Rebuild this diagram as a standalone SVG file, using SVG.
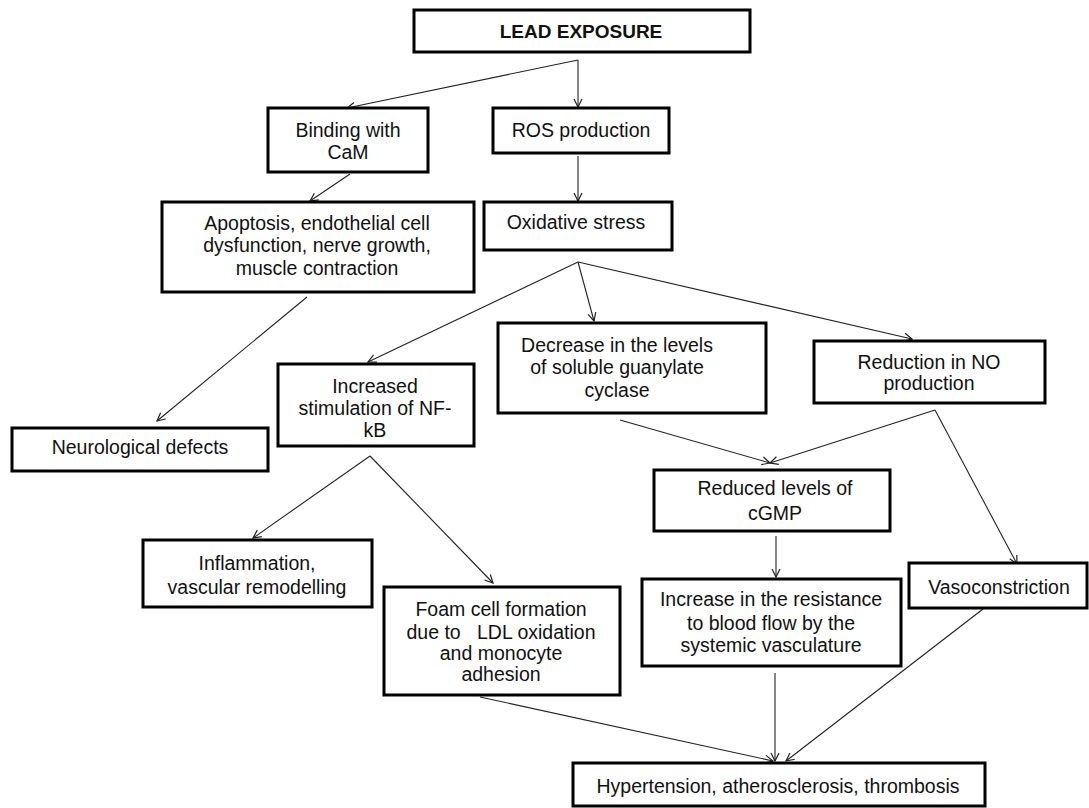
<svg xmlns="http://www.w3.org/2000/svg" width="1089" height="808" viewBox="0 0 1089 808">
<style>
.box{fill:#fff;stroke:#000;stroke-width:3}
.t{font-family:"Liberation Sans",Arial,sans-serif;font-size:19.5px;fill:#111;text-anchor:middle;white-space:pre}
.b{font-weight:bold;font-size:19px}
.c{fill:none;stroke:#222;stroke-width:1.1;marker-end:url(#ah)}
</style>
<defs>
<marker id="ah" viewBox="0 0 10 10" refX="9" refY="5" markerWidth="10" markerHeight="10" markerUnits="userSpaceOnUse" orient="auto">
<path d="M1,1 L9,5 L1,9" fill="none" stroke="#222" stroke-width="1.2"/>
</marker>
</defs>
<rect width="1089" height="808" fill="#fff"/>
<g id="connectors">
<line class="c" x1="578" y1="60" x2="347" y2="108"/>
<line class="c" x1="578" y1="60" x2="578" y2="107"/>
<line class="c" x1="350" y1="174" x2="310" y2="201"/>
<line class="c" x1="578" y1="156" x2="578" y2="201"/>
<line class="c" x1="307" y1="297" x2="157" y2="421"/>
<line class="c" x1="578" y1="262" x2="368" y2="362"/>
<line class="c" x1="578" y1="262" x2="594" y2="321"/>
<line class="c" x1="578" y1="262" x2="912" y2="339"/>
<line class="c" x1="620" y1="420" x2="770" y2="463"/>
<line class="c" x1="935" y1="410" x2="770" y2="463"/>
<line class="c" x1="935" y1="410" x2="1017" y2="564"/>
<line class="c" x1="776" y1="536" x2="776" y2="577"/>
<line class="c" x1="370" y1="456" x2="253" y2="538"/>
<line class="c" x1="370" y1="456" x2="493" y2="583"/>
<line class="c" x1="775" y1="673" x2="775" y2="761"/>
<line class="c" x1="983" y1="609" x2="786" y2="761"/>
<line class="c" x1="480" y1="697" x2="773" y2="761"/>
</g>
<g id="lead"><rect class="box" x="414" y="10" width="336" height="42"/><text class="t b" x="581" y="38">LEAD EXPOSURE</text></g>
<g id="binding"><rect class="box" x="268" y="108" width="160" height="64"/><text class="t" x="348" y="137">Binding with</text><text class="t" x="348" y="159">CaM</text></g>
<g id="ros"><rect class="box" x="493" y="108" width="176" height="45"/><text class="t" x="581" y="137">ROS production</text></g>
<g id="apoptosis"><rect class="box" x="162" y="202" width="312" height="90"/><text class="t" x="317" y="230">Apoptosis, endothelial cell</text><text class="t" x="317" y="252">dysfunction, nerve growth,</text><text class="t" x="317" y="275">muscle contraction</text></g>
<g id="oxidative"><rect class="box" x="484" y="202" width="188" height="48"/><text class="t" x="576" y="229">Oxidative stress</text></g>
<g id="neuro"><rect class="box" x="12" y="428" width="256" height="43"/><text class="t" x="140" y="454">Neurological defects</text></g>
<g id="nfkb"><rect class="box" x="278" y="364" width="196" height="82"/><text class="t" x="375" y="393">Increased</text><text class="t" x="375" y="415">stimulation of NF-</text><text class="t" x="375" y="437">kB</text></g>
<g id="decrease"><rect class="box" x="498" y="323" width="268" height="90"/><text class="t" x="617" y="352">Decrease in the levels</text><text class="t" x="617" y="374">of soluble guanylate</text><text class="t" x="617" y="397">cyclase</text></g>
<g id="reduction"><rect class="box" x="814" y="341" width="231" height="62"/><text class="t" x="929" y="369">Reduction in NO</text><text class="t" x="929" y="390">production</text></g>
<g id="cgmp"><rect class="box" x="654" y="470" width="236" height="61"/><text class="t" x="775" y="495">Reduced levels of</text><text class="t" x="775" y="520">cGMP</text></g>
<g id="inflammation"><rect class="box" x="143" y="540" width="229" height="67"/><text class="t" x="257" y="570">Inflammation,</text><text class="t" x="257" y="594">vascular remodelling</text></g>
<g id="foam"><rect class="box" x="384" y="587" width="236" height="108"/><text class="t" x="501" y="616">Foam cell formation</text><text class="t" x="501" y="639">due to   LDL oxidation</text><text class="t" x="501" y="660">and monocyte</text><text class="t" x="501" y="681">adhesion</text></g>
<g id="resistance"><rect class="box" x="642" y="579" width="259" height="87"/><text class="t" x="771" y="606">Increase in the resistance</text><text class="t" x="771" y="630">to blood flow by the</text><text class="t" x="771" y="652">systemic vasculature</text></g>
<g id="vaso"><rect class="box" x="909" y="563" width="178" height="45"/><text class="t" x="999" y="594">Vasoconstriction</text></g>
<g id="hyper"><rect class="box" x="573" y="763" width="412" height="43"/><text class="t" x="778" y="793">Hypertension, atherosclerosis, thrombosis</text></g>
</svg>
